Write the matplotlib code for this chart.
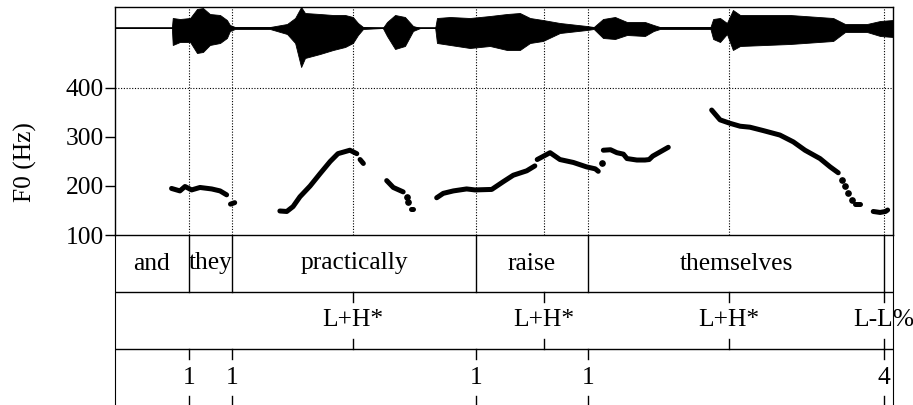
import numpy as np
import matplotlib
matplotlib.use("Agg")
import matplotlib.pyplot as plt

plt.rcParams['font.family'] = ['Liberation Serif', 'DejaVu Serif']
FS = 18.4

# time axis (s)
t_end = 2.6

# F0 contour pieces (time s, Hz)
f0_lines = [
    ([0.189, 0.217, 0.234, 0.256, 0.284, 0.323, 0.351, 0.373], [195, 190, 199, 192, 197, 194, 190, 182]),
    ([0.386, 0.400], [163, 166]),
    ([0.551, 0.574, 0.595, 0.618, 0.652, 0.685, 0.719, 0.745, 0.785, 0.808], [149, 148, 158, 178, 200, 225, 250, 266, 273, 266]),
    ([0.819, 0.830], [254, 246]),
    ([0.908, 0.930, 0.963], [211, 197, 188]),
    ([0.989, 0.995], [154, 154]),
    ([1.075, 1.097, 1.131, 1.175, 1.203, 1.259, 1.298, 1.331, 1.376, 1.403], [176, 185, 190, 194, 192, 193, 209, 222, 231, 241]),
    ([1.411, 1.454, 1.487, 1.532, 1.576, 1.605, 1.615], [254, 268, 254, 248, 239, 235, 230]),
    ([1.632, 1.656, 1.677, 1.699, 1.711, 1.744, 1.771, 1.785, 1.797, 1.849], [273, 274, 268, 265, 256, 253, 253, 254, 261, 279]),
    ([1.994, 2.022, 2.055, 2.089, 2.122, 2.167, 2.222, 2.267, 2.306, 2.356, 2.390, 2.417], [355, 335, 328, 322, 320, 313, 304, 290, 273, 256, 239, 227]),
    ([2.473, 2.490], [163, 163]),
    ([2.534, 2.557, 2.575, 2.582], [148, 146, 148, 151]),
]
f0_dot_t = [0.975, 0.980, 1.626, 2.429, 2.440, 2.451, 2.462]
f0_dot_hz = [178, 167, 246, 212, 199, 185, 171]

# waveform envelope (time s, upper, lower), arbitrary units
wave_t = [0, 0.190, 0.193, 0.217, 0.251, 0.274, 0.294, 0.317, 0.351, 0.374, 0.384, 0.401, 0.518, 0.575,
          0.602, 0.622, 0.635, 0.685, 0.729, 0.769, 0.795, 0.812, 0.829, 0.895, 0.909, 0.936, 0.969, 0.996,
          1.020, 1.070, 1.076, 1.120, 1.186, 1.253, 1.310, 1.353, 1.387, 1.430, 1.487, 1.577, 1.600, 1.631,
          1.671, 1.711, 1.771, 1.800, 1.821, 1.990, 1.999, 2.022, 2.045, 2.065, 2.089, 2.256, 2.400, 2.440,
          2.513, 2.557, 2.6]
wave_hi = [0, 0, 10, 9, 10, 19, 20, 14, 13, 8, 3, 1, 1, 4,
           10, 21, 15, 14, 13, 13, 11, 5, 1, 0, 6, 13, 11, 2,
           0, 0, 10, 11, 10, 12, 14, 15, 10, 8, 5, 2, 1, 9,
           11, 6, 6, 3, 1, 1, 9, 10, 5, 18, 13, 13, 10, 4,
           4, 7, 8]
wave_lo = [0, 0, -17, -14, -14, -25, -24, -17, -15, -10, -3, -1, -1, -6,
           -15, -39, -30, -26, -22, -19, -15, -7, -1, 0, -8, -21, -18, -3,
           0, 0, -15, -17, -20, -18, -22, -22, -15, -13, -5, -2, -1, -10,
           -11, -7, -8, -3, -1, -1, -11, -14, -6, -22, -18, -16, -13, -4,
           -4, -8, -9]

# text grid
words = ["and", "they", "practically", "raise", "themselves", ""]
word_edges = [0, 0.247, 0.391, 1.206, 1.581, 2.570, 2.6]
tone_t = [0.795, 1.434, 2.052, 2.570]
tones = ["L+H*", "L+H*", "L+H*", "L-L%"]
brk_t = [0.247, 0.391, 1.206, 1.581, 2.570]
breaks = ["1", "1", "1", "1", "4"]

W, H = 913, 405
fig = plt.figure(figsize=(W / 100, H / 100), dpi=100)

def box(x0, y0, x1, y1):
    return [x0 / W, 1 - y1 / H, (x1 - x0) / W, (y1 - y0) / H]

ax = fig.add_axes(box(115, 7, 893, 235))
ax.set_xlim(0, t_end)
ax.set_ylim(100, 565.3)
ax.set_xticks([])
ax.set_yticks([100, 200, 300, 400])
ax.tick_params(axis='y', direction='out', length=7, width=1, pad=1, labelsize=FS)
for s in ax.spines.values():
    s.set_linewidth(1)
ax.axhline(400, color='black', lw=0.8, ls=(0, (1, 1.5)))
for t in sorted(set(word_edges[1:-1] + tone_t)):
    ax.axvline(t, color='black', lw=0.8, ls=(0, (1, 1.5)))
for tt, hz in f0_lines:
    ax.plot(tt, hz, color='black', lw=3.6, solid_capstyle='round', solid_joinstyle='round')
ax.plot(f0_dot_t, f0_dot_hz, 'o', color='black', ms=3.8, mec='black')
fig.text(25 / W, 1 - 162 / H, "F0 (Hz)", rotation=90, ha='center', va='center', fontsize=FS)

wax = fig.add_axes(box(115, 7, 893, 88))
wax.set_xlim(0, t_end)
wax.set_ylim(-60, 21)
wax.axis('off')
wax.fill_between(wave_t, wave_lo, wave_hi, color='black', lw=0.6)
wax.plot(wave_t, np.zeros(len(wave_t)), color='black', lw=1.2)

tax = fig.add_axes(box(115, 235, 893, 406))
tax.set_xlim(0, t_end)
tax.set_ylim(0, 3)
tax.set_xticks([])
tax.set_yticks([])
tax.spines['top'].set_visible(False)
tax.spines['bottom'].set_visible(False)
tax.patch.set_alpha(0)
for y in [2, 1]:
    tax.axhline(y, color='black', lw=1)
for e in word_edges[1:-1]:
    tax.plot([e, e], [2, 3], color='black', lw=1)
for i, w in enumerate(words):
    tax.text((word_edges[i] + word_edges[i + 1]) / 2, 2.5, w, ha='center', va='center', fontsize=FS)
tk = 0.18
for t, lab in zip(tone_t, tones):
    tax.plot([t, t], [2 - tk, 2], color='black', lw=1)
    tax.plot([t, t], [1, 1 + tk], color='black', lw=1)
    tax.text(t, 1.5, lab, ha='center', va='center', fontsize=FS)
for t, lab in zip(brk_t, breaks):
    tax.plot([t, t], [1 - tk, 1], color='black', lw=1)
    tax.plot([t, t], [0, tk], color='black', lw=1)
    tax.text(t, 0.5, lab, ha='center', va='center', fontsize=FS)

fig.savefig("out.png", dpi=100)
